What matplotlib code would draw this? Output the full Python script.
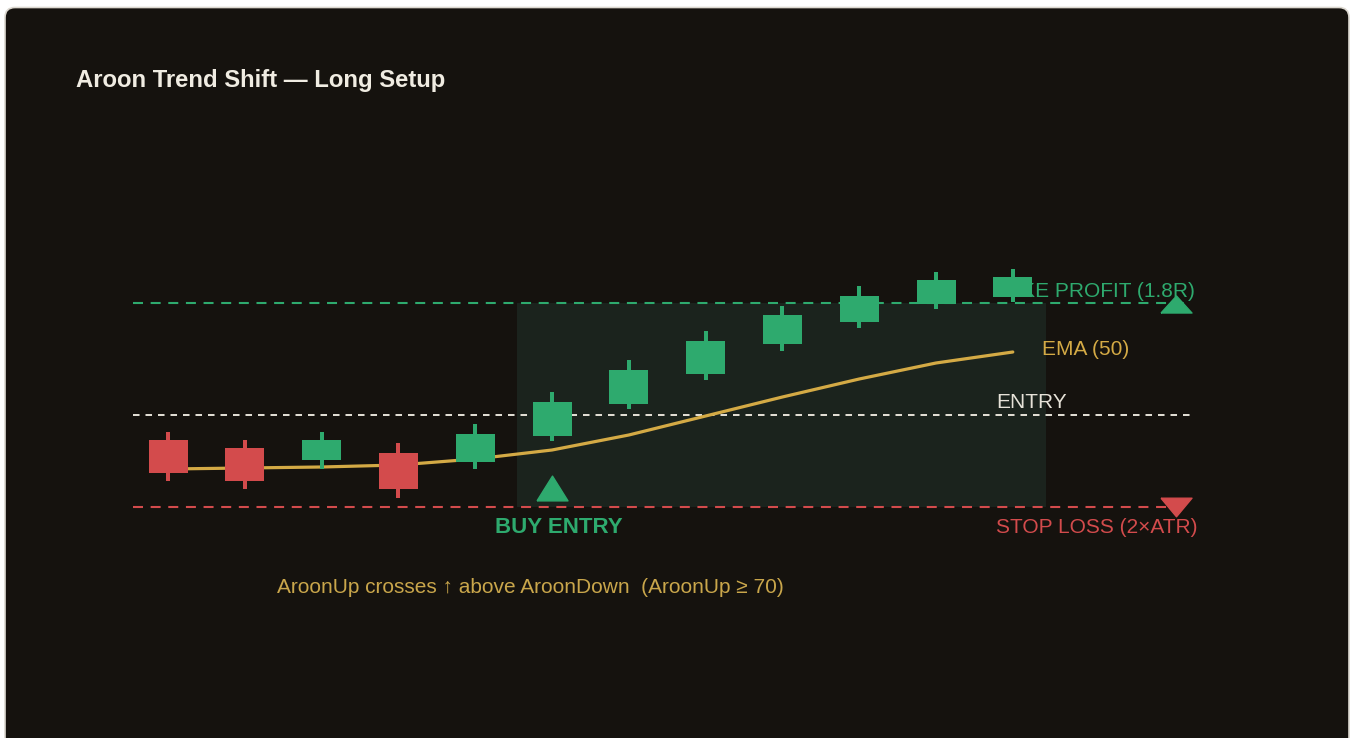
import matplotlib
matplotlib.use("Agg")
import matplotlib.pyplot as plt
from matplotlib.patches import FancyBboxPatch, Rectangle
import numpy as np

plt.rcParams['font.family'] = ['Liberation Sans', 'DejaVu Sans']
plt.rcParams['lines.scale_dashes'] = False

# ---- data ----
opens  = [98.75, 98.35, 97.75, 98.10, 97.65, 98.95, 100.55, 102.05, 103.55, 104.65, 105.55, 105.90]
closes = [97.10, 96.70, 98.75, 96.30, 99.05, 100.65, 102.25, 103.70, 105.00, 105.95, 106.75, 106.90]
highs  = [99.15, 98.75, 99.15, 98.60, 99.55, 101.15, 102.75, 104.20, 105.45, 106.45, 107.15, 107.30]
lows   = [96.70, 96.30, 97.30, 95.85, 97.30, 98.70, 100.30, 101.75, 103.20, 104.35, 105.30, 105.65]
ema50  = [97.30, 97.35, 97.40, 97.50, 97.80, 98.25, 99.00, 99.95, 100.90, 101.80, 102.60, 103.15]
entry_price = 100.0
stop_price = 95.40
tp_price = 105.60
entry_index = 5
signal_marker_price = 96.33

title = "Aroon Trend Shift \u2014 Long Setup"
lbl_tp = "TAKE PROFIT (1.8R)"
lbl_ema = "EMA (50)"
lbl_entry = "ENTRY"
lbl_buy = "BUY ENTRY"
lbl_sl = "STOP LOSS (2\u00d7ATR)"
lbl_note = "AroonUp crosses \u2191 above AroonDown  (AroonUp \u2265 70)"

# ---- style ----
BG = "#15120e"
GREEN = "#2eaa6e"
RED = "#d34b4c"
GOLD = "#d4aa45"
NOTE = "#c9a64b"
WHITE = "#e6e2d8"
TITLE_C = "#f0ece2"
SHADE = "#1b231d"

W, H = 1354, 738
fig = plt.figure(figsize=(W / 100, H / 100), dpi=100, facecolor="white")

# rounded dark panel
panel = FancyBboxPatch((0.05, -0.3), 13.44, 7.605,
                       boxstyle="round,pad=0,rounding_size=0.1",
                       transform=fig.dpi_scale_trans,
                       facecolor=BG, edgecolor="#dcd8d0", linewidth=1.2, zorder=-10)
fig.patches.append(panel)

ax = fig.add_axes([0, 0, 1, 1], zorder=1)
ax.set_facecolor("none")
ax.axis("off")
# x: candle index, y: price
ax.set_xlim(-168 / 76.8, (W - 168) / 76.8)
ax.set_ylim(100 + (415 - H) / 20, 100 + 415 / 20)

n = len(opens)
x = np.arange(n)
x_left, x_right = -0.456, 13.31

# shaded trade zone
ax.add_patch(Rectangle((entry_index - 0.456, stop_price), 11.43 - (entry_index - 0.456),
                       tp_price - stop_price, facecolor=SHADE, edgecolor="none", zorder=1))

# levels
ax.plot([x_left, x_right], [tp_price] * 2, color=GREEN, lw=1.5, dashes=(7.2, 5.5), zorder=2)
ax.plot([x_left, x_right], [entry_price] * 2, color=WHITE, lw=1.4, dashes=(4.7, 4.3), zorder=2)
ax.plot([x_left, x_right], [stop_price] * 2, color=RED, lw=1.5, dashes=(7.2, 5.5), zorder=2)

# texts under candles
FS = 15
ax.text(13.37, 106.18, lbl_tp, color=GREEN, fontsize=FS, ha="right", va="center", zorder=3)
ax.text(11.38, 103.28, lbl_ema, color=GOLD, fontsize=FS, ha="left", va="center", zorder=3)
ax.text(10.79, 100.62, lbl_entry, color=WHITE, fontsize=FS, ha="left", va="center", zorder=3)
ax.text(5.09, 94.37, lbl_buy, color=GREEN, fontsize=16, fontweight="bold", ha="center", va="center", zorder=3)
ax.text(13.4, 94.37, lbl_sl, color=RED, fontsize=FS, ha="right", va="center", zorder=3)
ax.text(1.42, 91.37, lbl_note, color=NOTE, fontsize=FS, ha="left", va="center", zorder=3)

# EMA
ax.plot(x, ema50, color=GOLD, lw=2.3, zorder=4, solid_capstyle="round")

# candles
body_w = 39 / 76.8
wick_w = 4 / 76.8
for i in range(n):
    c = GREEN if closes[i] >= opens[i] else RED
    ax.bar(x[i], highs[i] - lows[i], bottom=lows[i], width=wick_w, color=c, zorder=5, linewidth=0)
    lo, hi = min(opens[i], closes[i]), max(opens[i], closes[i])
    ax.bar(x[i], hi - lo, bottom=lo, width=body_w, color=c, zorder=5, linewidth=0)

# markers
up_tri = [(-1, -0.8), (1, -0.8), (0, 0.8), (-1, -0.8)]
ax.plot([entry_index], [signal_marker_price], marker=up_tri, markersize=22.3, color=GREEN,
        linestyle="none", zorder=6)
tp_tri = [(-1, -0.55), (1, -0.55), (0, 0.55), (-1, -0.55)]
ax.plot([13.125], [tp_price - 0.05], marker=tp_tri, markersize=22.3, color=GREEN,
        linestyle="none", zorder=6)
sl_tri = [(-1, 0.6), (1, 0.6), (0, -0.6), (-1, 0.6)]
ax.plot([13.125], [stop_price - 0.02], marker=sl_tri, markersize=22.3, color=RED,
        linestyle="none", zorder=6)

fig.text(76 / W, 1 - 80 / H, title, color=TITLE_C, fontsize=17.2, fontweight="bold",
         ha="left", va="center", zorder=2)

fig.savefig("out.png", dpi=100, facecolor="white")
